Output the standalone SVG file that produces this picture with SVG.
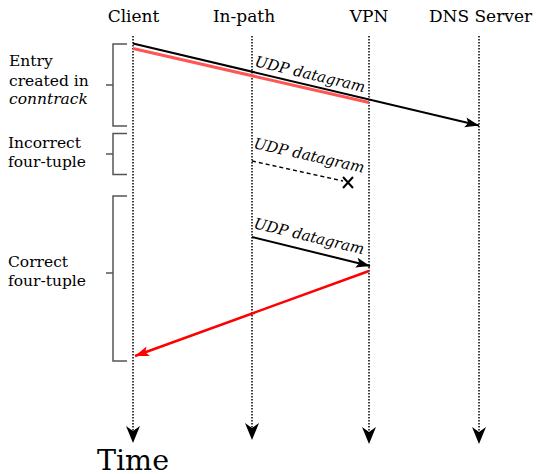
<svg xmlns="http://www.w3.org/2000/svg" width="537" height="474" viewBox="0 0 537 474">
<defs>
<style>
.hdr{font-family:'DejaVu Serif',serif;font-size:17px;fill:#000;text-anchor:middle}
.side{font-family:'DejaVu Serif',serif;font-size:15.5px;fill:#000}
.msg{font-family:'DejaVu Serif',serif;font-style:italic;font-size:15px;fill:#000}
.life{stroke:#000;stroke-width:1.5;stroke-dasharray:1.5 1.5;fill:none}
.brk{stroke:#555;stroke-width:1.5;fill:none}
.ah{fill:#000}
</style>
<marker id="ab" viewBox="-15 -6 16 12" refX="0" refY="0" markerWidth="16" markerHeight="12" markerUnits="userSpaceOnUse" orient="auto">
<path d="M0,0 L-14,-5 L-11,0 L-14,5 Z" fill="#000"/>
</marker>
<marker id="ar" viewBox="-15 -6 16 12" refX="0" refY="0" markerWidth="16" markerHeight="12" markerUnits="userSpaceOnUse" orient="auto">
<path d="M0,0 L-14,-5 L-11,0 L-14,5 Z" fill="#f00"/>
</marker>
</defs>
<g id="client">
<text class="hdr" x="133.5" y="22">Client</text>
<path class="life" d="M133,36 V432"/>
<path class="ah" d="M133,443 L126,426 L133,431 L140,426 Z"/>
</g>
<g id="inpath">
<text class="hdr" x="244" y="22">In-path</text>
<path class="life" d="M252,36 V429"/>
<path class="ah" d="M252,440 L245,423 L252,428 L259,423 Z"/>
</g>
<g id="vpn">
<text class="hdr" x="369" y="22">VPN</text>
<path class="life" d="M369,36 V433"/>
<path class="ah" d="M369,444 L362,427 L369,432 L376,427 Z"/>
</g>
<g id="dns">
<text class="hdr" x="480.5" y="22">DNS Server</text>
<path class="life" d="M479,36 V433"/>
<path class="ah" d="M479,444 L472,427 L479,432 L486,427 Z"/>
</g>
<g id="time">
<text x="97" y="470" font-family="'DejaVu Serif', serif" font-size="28.5">Time</text>
</g>
<g id="phase-entry">
<path class="brk" d="M127,44 H113 V126 H127 M106,85 H113"/>
<text class="side" x="9" y="66">Entry</text>
<text class="side" x="9" y="86">created in</text>
<text class="side" x="9" y="104" font-style="italic">conntrack</text>
</g>
<g id="phase-incorrect">
<path class="brk" d="M127,133.5 H113 V174.5 H127 M106,154 H113"/>
<text class="side" x="8" y="148">Incorrect</text>
<text class="side" x="8" y="167">four-tuple</text>
</g>
<g id="phase-correct">
<path class="brk" d="M127,196 H113 V361 H127 M106,273 H113"/>
<text class="side" x="8" y="267">Correct</text>
<text class="side" x="8" y="286">four-tuple</text>
</g>
<g id="connectors">
<path d="M133,43.5 L479,125.5" stroke="#000" stroke-width="2" fill="none" marker-end="url(#ab)"/>
<path d="M133,48.5 L369,102.5" stroke="#f55" stroke-width="3" fill="none"/>
<text class="msg" transform="translate(254,66) rotate(13.4)">UDP datagram</text>
<path d="M252,161 L343,181" stroke="#000" stroke-width="1.5" stroke-dasharray="4 3" fill="none"/>
<path d="M343,177 L353,188 M353,177 L343,188" stroke="#000" stroke-width="2" fill="none"/>
<text class="msg" transform="translate(253,148) rotate(12.7)">UDP datagram</text>
<path d="M252,237 L370,266" stroke="#000" stroke-width="2" fill="none" marker-end="url(#ab)"/>
<text class="msg" transform="translate(253,228) rotate(13.5)">UDP datagram</text>
<path d="M369,271 L135,356" stroke="#f00" stroke-width="2.5" fill="none" marker-end="url(#ar)"/>
</g>
</svg>
